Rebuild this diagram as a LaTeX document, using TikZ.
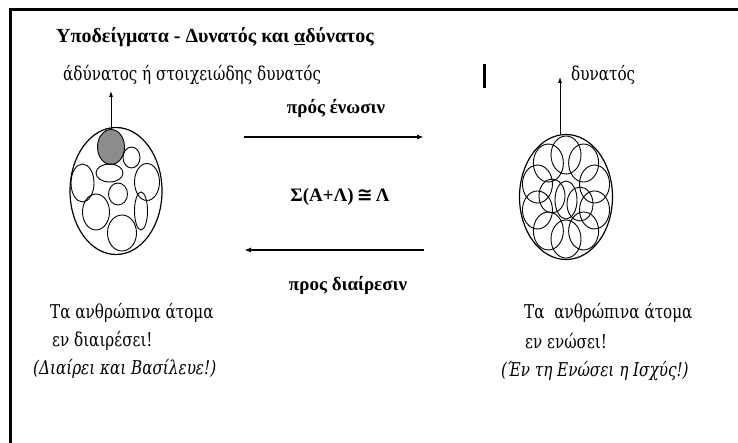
\documentclass[tikz,border=0pt]{standalone}
\usepackage{fontspec}
\setmainfont{Liberation Serif}
\newfontfamily\handfont[FakeStretch=0.8]{DejaVu Serif}
\newfontfamily\symfont{DejaVu Sans}
\usetikzlibrary{calc,arrows.meta,shapes.geometric}

\begin{document}
\begin{tikzpicture}[x=1pt,y=-1pt,
    heading/.style={font=\bfseries\fontsize{20}{22}\selectfont, inner sep=0pt},
    arrowlabel/.style={font=\bfseries\fontsize{19}{21}\selectfont, inner sep=0pt},
    hand/.style={font=\handfont\fontsize{19}{21}\selectfont, inner sep=0pt},
    handit/.style={font=\handfont\itshape\fontsize{19}{21}\selectfont, inner sep=0pt},
    whole/.style={draw, ellipse, line width=1.2pt, inner sep=0pt},
    part/.style={line width=0.9pt}]
    \useasboundingbox (0,0) rectangle (738,443);

    % --- frame
    \draw[line width=3pt] (10,443) -- (10,10) -- (738,10);
    \draw[line width=3pt] (484,64) -- (484,88);

    % --- top texts
    \node[heading, anchor=west] (title) at (56,37) {Υποδείγματα - Δυνατός και \underline{α}δύνατος};
    \node[hand, anchor=west] (weak) at (63,75) {άδύνατος ή στοιχειώδης δυνατός};
    \node[hand, anchor=west] (strong) at (571,75) {δυνατός};

    % --- left: atoms apart
    \node[whole, minimum width=92pt, minimum height=127pt] (apart) at (116,191) {};
    \node[draw, ellipse, part, fill=gray!90, minimum width=27pt, minimum height=35pt, inner sep=0pt] (single) at (111,147) {};
    \foreach \cx/\cy/\rx/\ry in {131.5/157.5/8.5/10.5, 109.5/173/13.5/9, 82.5/183/11.5/19,
        147/182/12.5/18.5, 118/194/9.5/11, 96/212/13.5/18, 141/211/6.5/19, 122/233/14.5/18}
        \draw[part] (\cx,\cy) ellipse [x radius=\rx, y radius=\ry];

    % --- right: atoms united
    \node[whole, minimum width=93pt, minimum height=125pt] (united) at (566,197) {};
    \foreach \a in {0,36,...,324}
        \draw[part] ($(566,197)+({30*cos(\a+18)},{42*sin(\a+18)})$) ellipse [x radius=15, y radius=19];
    \foreach \cx/\cy in {552/196, 580/204}
        \draw[part] (\cx,\cy) ellipse [x radius=13, y radius=17];
    \draw[part] (566,200) ellipse [x radius=11, y radius=19];

    % --- vertical arrows
    \coordinate (weaktip) at (single.north |- 0,91);
    \coordinate (strongtip) at (560,77);
    \draw[-{Latex[length=6pt,width=4pt]}, line width=0.8pt] (single.north) -- (weaktip);
    \draw[-{Latex[length=6pt,width=4pt]}, line width=0.8pt] (strongtip |- united.north) -- (strongtip);

    % --- middle: union and division
    \coordinate (uL) at (244,137);
    \coordinate (uR) at (424,137);
    \coordinate (dL) at (244,250);
    \coordinate (dR) at (424,250);
    \draw[-{Latex[length=7pt,width=5pt]}, line width=1.8pt] (uL) -- (uR);
    \draw[-{Latex[length=7pt,width=5pt]}, line width=1.8pt] (dR) -- (dL);
    \node[arrowlabel] (union) at (336,108) {πρός ένωσιν};
    \node[arrowlabel] (sum) at (340,197) {Σ(Α+Λ)\,{\symfont\bfseries ≅}\,Λ};
    \node[arrowlabel] (division) at (348,285) {προς διαίρεσιν};

    % --- bottom texts
    \node[hand, anchor=west] (lefta) at (50,313) {Τα ανθρώπινα άτομα};
    \node[hand, anchor=west] (leftb) at (52,341) {εν διαιρέσει!};
    \node[handit, anchor=west] (leftc) at (33,369) {(Διαίρει και Βασίλευε!)};
    \node[hand, anchor=west] (righta) at (524,313) {Τα\ \ ανθρώπινα άτομα};
    \node[hand, anchor=west] (rightb) at (525,341) {εν ενώσει!};
    \node[handit, anchor=west] (rightc) at (501,371) {(Έν τη Ενώσει η Ισχύς!)};
\end{tikzpicture}
\end{document}
